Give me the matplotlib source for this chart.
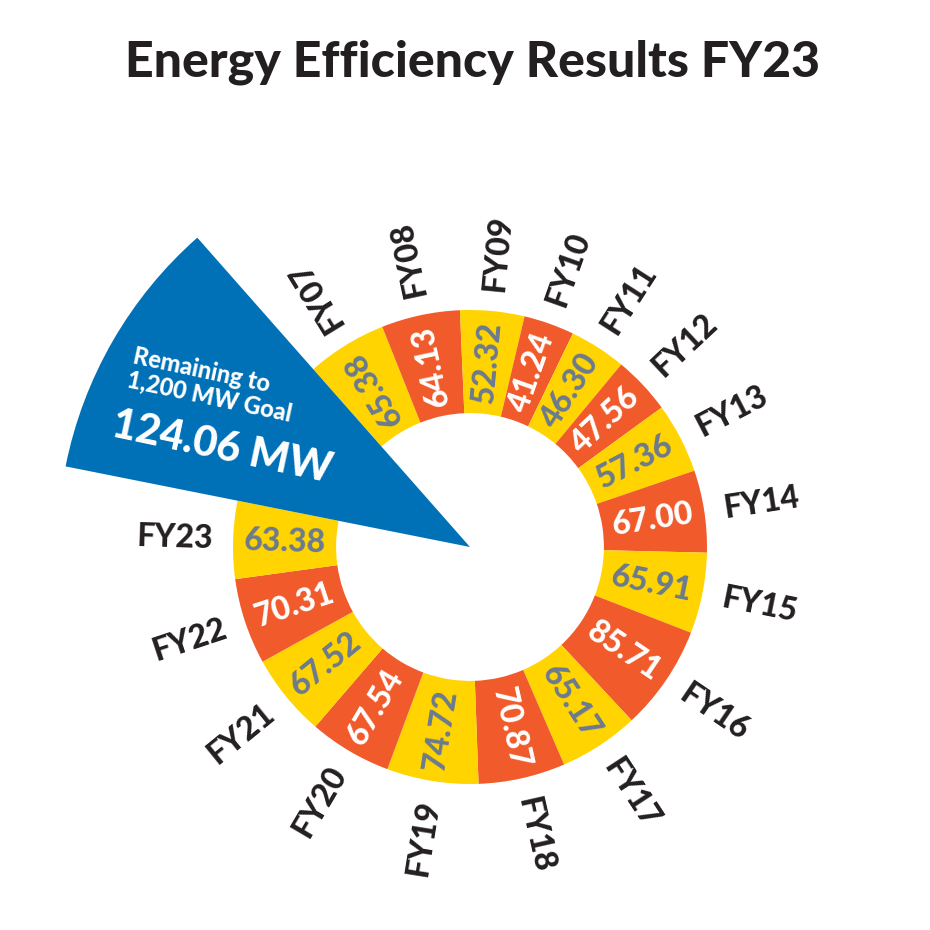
import matplotlib
matplotlib.use("Agg")
import matplotlib.pyplot as plt
import numpy as np

# Data
years = ["FY07", "FY08", "FY09", "FY10", "FY11", "FY12", "FY13", "FY14", "FY15",
         "FY16", "FY17", "FY18", "FY19", "FY20", "FY21", "FY22", "FY23"]
savings = [65.38, 64.13, 52.32, 41.24, 46.30, 47.56, 57.36, 67.00, 65.91,
           85.71, 65.17, 70.87, 74.72, 67.54, 67.52, 70.31, 63.38]
remaining = 124.06

# Colors
yellow = "#FFD400"
orange = "#F15A2B"
blue = "#0071B7"
gray_txt = "#6B7A8F"
dark = "#231F20"

plt.rcParams["font.family"] = ["Lato", "DejaVu Sans"]

fig = plt.figure(figsize=(9.3, 9.3), dpi=100)
ax = fig.add_axes([0, 0, 1, 1])

start = 131.4
inner = 0.565
values = savings + [remaining]
ring_colors = [yellow if i % 2 == 0 else orange for i in range(len(savings))] + ["none"]

# Ring of yearly results
ring, _ = ax.pie(values, colors=ring_colors, radius=1.0, startangle=start,
                 counterclock=False, wedgeprops=dict(width=1 - inner, linewidth=0))
# Big blue wedge for the remaining amount
big, _ = ax.pie(values, colors=["none"] * len(savings) + [blue], radius=1.74,
                startangle=start, counterclock=False, wedgeprops=dict(linewidth=0))


def text_rot(a):
    a = (a + 90) % 360 - 90  # range [-90, 270)
    if a <= 150:
        return a
    return a - 180


for i, w in enumerate(ring[:-1]):
    a = (w.theta1 + w.theta2) / 2
    rad = np.deg2rad(a)
    rot = text_rot(a)
    r_mid = (1 + inner) / 2
    col = gray_txt if i % 2 == 0 else "white"
    ax.text(r_mid * np.cos(rad), r_mid * np.sin(rad), f"{savings[i]:.2f}",
            rotation=rot, rotation_mode="anchor", ha="center", va="center",
            fontsize=23, fontweight="black", color=col)
    r_lab = 1.245
    ax.text(r_lab * np.cos(rad), r_lab * np.sin(rad), years[i],
            rotation=rot, rotation_mode="anchor", ha="center", va="center",
            fontsize=23, fontweight="black", color=dark)

# Text in the blue wedge
ax.text(-1.131, 0.747, "Remaining to", rotation=-12, ha="center", va="center",
        rotation_mode="anchor", fontsize=17, fontweight="black", color="white")
ax.text(-1.101, 0.633, "1,200 MW Goal", rotation=-12, ha="center", va="center",
        rotation_mode="anchor", fontsize=17, fontweight="black", color="white")
ax.text(-1.046, 0.418, f"{remaining:.2f} MW", rotation=-12, ha="center", va="center",
        rotation_mode="anchor", fontsize=30, fontweight="black", color="white")

ax.set_xlim(-470 / 237, 460 / 237)
ax.set_ylim(-383 / 237, 547 / 237)
ax.set_aspect("equal")
ax.axis("off")

fig.text(0.508, 0.933, "Energy Efficiency Results FY23", ha="center", va="center",
         fontsize=36, fontweight="black", color=dark)

fig.savefig("out.png", dpi=100, facecolor="white")
